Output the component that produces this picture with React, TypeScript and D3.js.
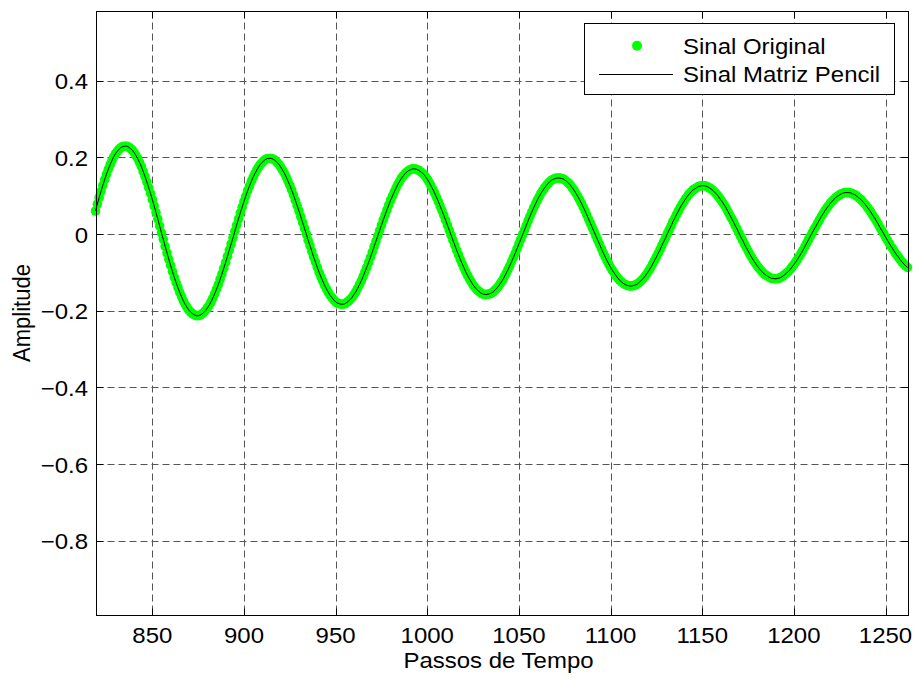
import React from "react";
import * as d3 from "d3";

// Time steps of the record: first sample index, one sample per step
const firstStep = 819;

// Amplitude of the original signal, one value per time step (819 … 1262)
const sinalOriginal: number[] = [
  0.060, 0.078, 0.095, 0.111, 0.127, 0.142, 0.156, 0.169, 0.181, 0.192, 0.202, 0.210, 0.216, 0.222, 0.226, 0.228, 0.229,
  0.229, 0.227, 0.223, 0.219, 0.213, 0.205, 0.197, 0.187, 0.176, 0.163, 0.150, 0.136, 0.121, 0.106, 0.090, 0.073, 0.056, 0.039, 0.021, 0.003,
  -0.014, -0.032, -0.049, -0.066, -0.082, -0.098, -0.113, -0.127, -0.140, -0.153, -0.164, -0.175, -0.184, -0.192, -0.199, -0.204, -0.208, -0.211, -0.213, -0.213,
  -0.212, -0.209, -0.205, -0.200, -0.193, -0.186, -0.177, -0.167, -0.156, -0.144, -0.132, -0.118, -0.104, -0.089, -0.074, -0.058, -0.042, -0.026, -0.010, 0.007,
  0.023, 0.039, 0.055, 0.070, 0.085, 0.099, 0.113, 0.125, 0.137, 0.148, 0.158, 0.167, 0.175, 0.182, 0.187, 0.192, 0.195, 0.197, 0.197, 0.197,
  0.195, 0.192, 0.187, 0.182, 0.175, 0.167, 0.159, 0.149, 0.138, 0.127, 0.115, 0.102, 0.088, 0.074, 0.060, 0.045, 0.030, 0.015, 0.000, -0.016,
  -0.030, -0.045, -0.060, -0.073, -0.087, -0.100, -0.112, -0.123, -0.134, -0.143, -0.152, -0.160, -0.166, -0.172, -0.177, -0.180, -0.182, -0.183, -0.183, -0.182,
  -0.179, -0.175, -0.171, -0.165, -0.158, -0.151, -0.142, -0.132, -0.122, -0.111, -0.099, -0.087, -0.074, -0.061, -0.047, -0.033, -0.019, -0.005, 0.009, 0.023,
  0.037, 0.050, 0.063, 0.076, 0.088, 0.099, 0.110, 0.120, 0.130, 0.138, 0.146, 0.152, 0.158, 0.162, 0.166, 0.168, 0.170, 0.170, 0.169, 0.167,
  0.164, 0.160, 0.156, 0.150, 0.143, 0.135, 0.126, 0.117, 0.107, 0.096, 0.085, 0.073, 0.061, 0.049, 0.036, 0.023, 0.010, -0.003, -0.016, -0.029,
  -0.042, -0.054, -0.066, -0.077, -0.088, -0.099, -0.108, -0.117, -0.125, -0.133, -0.139, -0.145, -0.149, -0.153, -0.156, -0.157, -0.158, -0.157, -0.156, -0.154,
  -0.151, -0.146, -0.141, -0.135, -0.128, -0.121, -0.112, -0.103, -0.093, -0.083, -0.072, -0.061, -0.050, -0.038, -0.026, -0.014, -0.002, 0.010, 0.022, 0.034,
  0.046, 0.057, 0.068, 0.078, 0.088, 0.097, 0.106, 0.113, 0.120, 0.127, 0.132, 0.137, 0.141, 0.143, 0.145, 0.146, 0.146, 0.145, 0.144, 0.141,
  0.137, 0.133, 0.128, 0.121, 0.115, 0.107, 0.099, 0.090, 0.081, 0.071, 0.061, 0.050, 0.039, 0.028, 0.017, 0.006, -0.005, -0.016, -0.027, -0.038,
  -0.049, -0.059, -0.069, -0.078, -0.087, -0.095, -0.102, -0.109, -0.115, -0.121, -0.125, -0.129, -0.132, -0.134, -0.135, -0.136, -0.135, -0.134, -0.132, -0.129,
  -0.125, -0.120, -0.115, -0.109, -0.102, -0.095, -0.087, -0.078, -0.069, -0.060, -0.050, -0.041, -0.030, -0.020, -0.010, 0.001, 0.011, 0.021, 0.032, 0.041,
  0.051, 0.060, 0.069, 0.077, 0.085, 0.092, 0.099, 0.105, 0.110, 0.115, 0.118, 0.121, 0.124, 0.125, 0.126, 0.126, 0.125, 0.123, 0.120, 0.117,
  0.113, 0.108, 0.103, 0.097, 0.090, 0.083, 0.076, 0.068, 0.059, 0.050, 0.041, 0.032, 0.022, 0.013, 0.003, -0.007, -0.016, -0.026, -0.035, -0.044,
  -0.053, -0.061, -0.069, -0.076, -0.083, -0.089, -0.095, -0.100, -0.105, -0.108, -0.111, -0.114, -0.116, -0.116, -0.117, -0.116, -0.115, -0.113, -0.110, -0.106,
  -0.102, -0.098, -0.092, -0.086, -0.080, -0.073, -0.066, -0.058, -0.050, -0.042, -0.033, -0.024, -0.015, -0.006, 0.003, 0.012, 0.020, 0.029, 0.037, 0.046,
  0.053, 0.061, 0.068, 0.074, 0.081, 0.086, 0.091, 0.096, 0.099, 0.102, 0.105, 0.107, 0.108, 0.108, 0.108, 0.107, 0.105, 0.103, 0.100, 0.096,
  0.092, 0.088, 0.082, 0.077, 0.070, 0.064, 0.057, 0.049, 0.042, 0.034, 0.026, 0.017, 0.009, 0.001, -0.008, -0.016, -0.024, -0.032, -0.039, -0.047,
  -0.054, -0.060, -0.067, -0.073, -0.078, -0.083, -0.087,
];

// Matrix Pencil reconstruction follows the original samples
const sinalMatrizPencil: number[] = sinalOriginal.slice();

const xTicks = [850, 900, 950, 1000, 1050, 1100, 1150, 1200, 1250];
const yTicks = [-0.8, -0.6, -0.4, -0.2, 0, 0.2, 0.4];
const xDomain = [819, 1262];
const yDomain = [-0.9935, 0.5815];

const legendLabels = ["Sinal Original", "Sinal Matriz Pencil"];
const axisTitles = { x: "Passos de Tempo", y: "Amplitude" };

const W = 915;
const H = 678;
const plot = { left: 95.5, right: 907.5, top: 11, bottom: 615 };
const FONT = "'Liberation Sans', Arial, Helvetica, sans-serif";
const FS = 22;
const STRETCH = 1.09;
const GREEN = "#00ff00";

type LabelProps = {
  x: number;
  y: number;
  anchor?: "start" | "middle" | "end";
  rotate?: number;
  children: React.ReactNode;
};

// Text set in a slightly wide face, stretched along its reading direction
function Label({ x, y, anchor = "start", rotate = 0, children }: LabelProps) {
  const t = rotate
    ? `translate(${x},${y}) rotate(${rotate}) scale(1,${STRETCH})`
    : `translate(${x},${y}) scale(${STRETCH},1)`;
  return (
    <text transform={t} textAnchor={anchor} fontSize={FS} fill="#000">
      {children}
    </text>
  );
}

export default function App() {
  const x = d3.scaleLinear().domain(xDomain).range([plot.left, plot.right]);
  const y = d3.scaleLinear().domain(yDomain).range([plot.bottom, plot.top]);

  const points = sinalOriginal.map((v, i) => ({ step: firstStep + i, v }));
  const fitPoints = sinalMatrizPencil.map((v, i) => ({ step: firstStep + i, v }));

  const line = d3
    .line<{ step: number; v: number }>()
    .x((d) => x(d.step))
    .y((d) => y(d.v));

  const crisp = (p: number) => Math.round(p) + 0.5;
  const L = crisp(plot.left);
  const R = crisp(plot.right);
  const T = crisp(plot.top);
  const B = crisp(plot.bottom);
  const tickLen = 7;

  return (
    <svg
      width={W}
      height={H}
      viewBox={`0 0 ${W} ${H}`}
      style={{ position: "absolute", left: 0, top: 0, background: "#fff" }}
      fontFamily={FONT}
    >
      <rect x={0} y={0} width={W} height={H} fill="#fff" />

      {/* dashed grid */}
      <g stroke="#555" strokeWidth={1} strokeDasharray="7,4" fill="none">
        {xTicks.map((t) => (
          <line key={"gx" + t} x1={crisp(x(t))} x2={crisp(x(t))} y1={T} y2={B} />
        ))}
        {yTicks.map((t) => (
          <line key={"gy" + t} x1={L} x2={R} y1={crisp(y(t))} y2={crisp(y(t))} />
        ))}
      </g>

      {/* original samples */}
      <g fill={GREEN}>
        {points.map((d) => (
          <circle key={d.step} cx={x(d.step)} cy={y(d.v)} r={4.8} />
        ))}
      </g>

      {/* reconstructed signal */}
      <path d={line(fitPoints) || ""} fill="none" stroke="#000" strokeWidth={1} />

      {/* axes box and inward ticks */}
      <g stroke="#000" strokeWidth={1} fill="none">
        <rect x={L} y={T} width={R - L} height={B - T} />
        {xTicks.map((t) => (
          <g key={"tx" + t}>
            <line x1={crisp(x(t))} x2={crisp(x(t))} y1={B} y2={B - tickLen} />
            <line x1={crisp(x(t))} x2={crisp(x(t))} y1={T} y2={T + tickLen} />
          </g>
        ))}
        {yTicks.map((t) => (
          <g key={"ty" + t}>
            <line x1={L} x2={L + tickLen} y1={crisp(y(t))} y2={crisp(y(t))} />
            <line x1={R} x2={R - tickLen} y1={crisp(y(t))} y2={crisp(y(t))} />
          </g>
        ))}
      </g>

      {/* tick labels */}
      {xTicks.map((t) => (
        <Label key={"lx" + t} x={x(t)} y={plot.bottom + 28} anchor="middle">
          {t}
        </Label>
      ))}
      {yTicks.map((t) => (
        <Label key={"ly" + t} x={88} y={y(t) + 8.5} anchor="end">
          {t === 0 ? "0" : d3.format(".1f")(t)}
        </Label>
      ))}

      {/* axis titles */}
      <Label x={(plot.left + plot.right) / 2 - 3} y={668} anchor="middle">
        {axisTitles.x}
      </Label>
      <Label x={30} y={(plot.top + plot.bottom) / 2} anchor="middle" rotate={-90}>
        {axisTitles.y}
      </Label>

      {/* legend */}
      <g>
        <rect x={584.5} y={23.5} width={310} height={71} fill="#fff" stroke="#000" strokeWidth={1} />
        <circle cx={637} cy={45.7} r={5} fill={GREEN} />
        <line x1={599} x2={673} y1={74.5} y2={74.5} stroke="#000" strokeWidth={1} />
        <Label x={683} y={53.5}>
          {legendLabels[0]}
        </Label>
        <Label x={683} y={82}>
          {legendLabels[1]}
        </Label>
      </g>
    </svg>
  );
}
